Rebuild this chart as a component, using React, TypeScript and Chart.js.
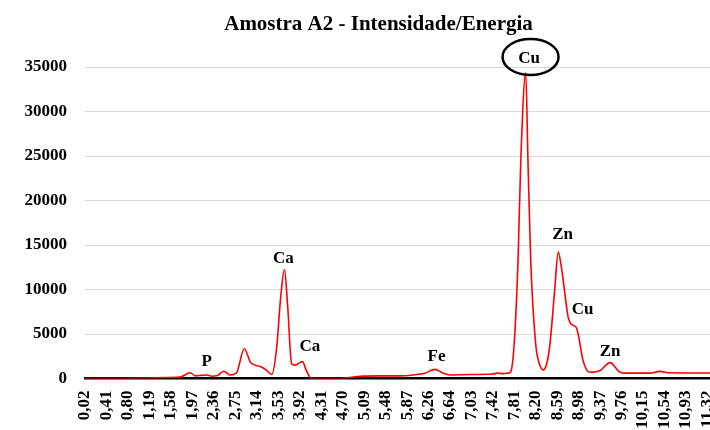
import { useEffect, useRef } from 'react';
import { Chart, registerables } from 'chart.js';

Chart.register(...registerables);

const FONT = '"Liberation Serif", "Times New Roman", serif';

const TITLE = 'Amostra A2 - Intensidade/Energia';

// Energy (keV)
const ENERGY = [
  0.02, 0.6, 1.02, 1.47, 1.74, 1.93, 2.02, 2.13, 2.23, 2.32,
  2.41, 2.54, 2.65, 2.77, 2.91, 3.03, 3.2, 3.3, 3.41, 3.5,
  3.57, 3.64, 3.7, 3.77, 3.83, 3.97, 4.03, 4.13, 4.6, 5.06,
  5.37, 5.74, 5.97, 6.19, 6.37, 6.52, 6.64, 7.01, 7.42, 7.5,
  7.61, 7.7, 7.75, 7.81, 7.88, 7.93, 8.02, 8.06, 8.11, 8.2,
  8.26, 8.34, 8.4, 8.46, 8.54, 8.61, 8.66, 8.7, 8.79, 8.88,
  8.93, 8.97, 9.06, 9.18, 9.37, 9.55, 9.73, 9.85, 10.27, 10.46,
  10.6, 11.36, 11.8,
];

// Intensity (counts)
const INTENSITY = [
  0, 0, 30, 100, 150, 650, 300, 350, 400, 250,
  300, 820, 400, 640, 3340, 1770, 1350, 1000, 450, 3520,
  9000, 12230, 8000, 1650, 1500, 1910, 1000, 0, 0, 270,
  300, 300, 400, 600, 1030, 600, 400, 450, 500, 600,
  550, 600, 800, 3900, 13280, 24530, 34360, 24530, 13280, 3900,
  1800, 970, 1650, 3900, 9530, 14200, 12800, 11030, 6900, 5960,
  5800, 5030, 2030, 710, 900, 1780, 710, 600, 600, 800,
  650, 620, 620,
];

const X_TICK_LABELS = [
  '0,02', '0,41', '0,80', '1,19', '1,58', '1,97', '2,36', '2,75', '3,14', '3,53',
  '3,92', '4,31', '4,70', '5,09', '5,48', '5,87', '6,26', '6,64', '7,03', '7,42',
  '7,81', '8,20', '8,59', '8,98', '9,37', '9,76', '10,15', '10,54', '10,93', '11,32',
];

// Peak labels: text, energy, intensity at label centre
const PEAK_TEXT = ['P', 'Ca', 'Ca', 'Fe', 'Cu', 'Zn', 'Cu', 'Zn'];
const PEAK_E = [2.23, 3.62, 4.1, 6.4, 8.08, 8.69, 9.05, 9.55];
const PEAK_V = [1850, 13430, 3540, 2450, 35900, 16120, 7700, 3010];
const CIRCLED_INDEX = 4;

const annotPlugin = {
  id: 'annot',
  afterDraw(chart: any) {
    const ctx = chart.ctx;
    const xs = chart.scales.x;
    const ys = chart.scales.y;
    ctx.save();
    ctx.fillStyle = '#000';
    ctx.textAlign = 'center';
    ctx.textBaseline = 'middle';
    ctx.font = `bold 21px ${FONT}`;
    ctx.fillText(TITLE, 378.5, 25);
    ctx.font = `bold 17px ${FONT}`;
    PEAK_TEXT.forEach((t, i) => {
      const px = xs.getPixelForValue(PEAK_E[i]);
      const py = ys.getPixelForValue(PEAK_V[i]);
      ctx.fillText(t, px, py);
      if (i === CIRCLED_INDEX) {
        ctx.beginPath();
        ctx.lineWidth = 2.5;
        ctx.strokeStyle = '#000';
        ctx.ellipse(px + 1.5, py - 2, 28, 18, 0, 0, Math.PI * 2);
        ctx.stroke();
      }
    });
    ctx.restore();
  },
};

export default function App() {
  const ref = useRef<HTMLCanvasElement>(null);
  useEffect(() => {
    const canvas = ref.current!;
    const chart = new Chart(canvas, {
      type: 'line',
      data: {
        datasets: [
          {
            data: ENERGY.map((e, i) => ({ x: e, y: INTENSITY[i] })),
            borderColor: '#ff0000',
            borderWidth: 1.6,
            pointRadius: 0,
            cubicInterpolationMode: 'monotone',
            fill: false,
          },
        ],
      },
      options: {
        responsive: false,
        animation: false,
        layout: { padding: { top: 67, left: 0, right: 6, bottom: 0 } },
        plugins: {
          legend: { display: false },
          tooltip: { enabled: false },
          title: { display: false },
        },
        scales: {
          x: {
            type: 'linear',
            min: 0.02,
            max: 11.8,
            afterBuildTicks: (s: any) => {
              s.ticks = X_TICK_LABELS.map((l) => ({ value: parseFloat(l.replace(',', '.')) }));
            },
            afterFit: (s: any) => {
              s.height = 71.5;
              s.paddingLeft = 0;
              s.paddingRight = 0;
            },
            grid: { display: false, drawTicks: false },
            border: { display: true, color: '#000', width: 2.5 },
            ticks: {
              autoSkip: false,
              maxRotation: 90,
              minRotation: 90,
              padding: 12,
              color: '#000',
              font: { family: FONT, size: 17, weight: 'bold' },
              callback: (_v: any, i: number) => X_TICK_LABELS[i],
            },
          },
          y: {
            min: 0,
            max: 35000,
            afterFit: (s: any) => {
              s.width = 85;
              s.paddingTop = 0;
              s.paddingBottom = 0;
            },
            grid: { color: '#d9d9d9', lineWidth: 1, drawTicks: false },
            border: { display: false },
            ticks: {
              stepSize: 5000,
              padding: 18,
              color: '#000',
              font: { family: FONT, size: 17, weight: 'bold' },
              callback: (v: any) => String(v),
            },
          },
        },
      },
      plugins: [annotPlugin],
    } as any);
    return () => chart.destroy();
  }, []);
  return (
    <div
      style={{
        position: 'fixed',
        left: 0,
        top: 0,
        width: 710,
        height: 430,
        overflow: 'hidden',
        background: '#fff',
      }}
    >
      <canvas ref={ref} width={740} height={450} style={{ display: 'block' }} />
    </div>
  );
}
